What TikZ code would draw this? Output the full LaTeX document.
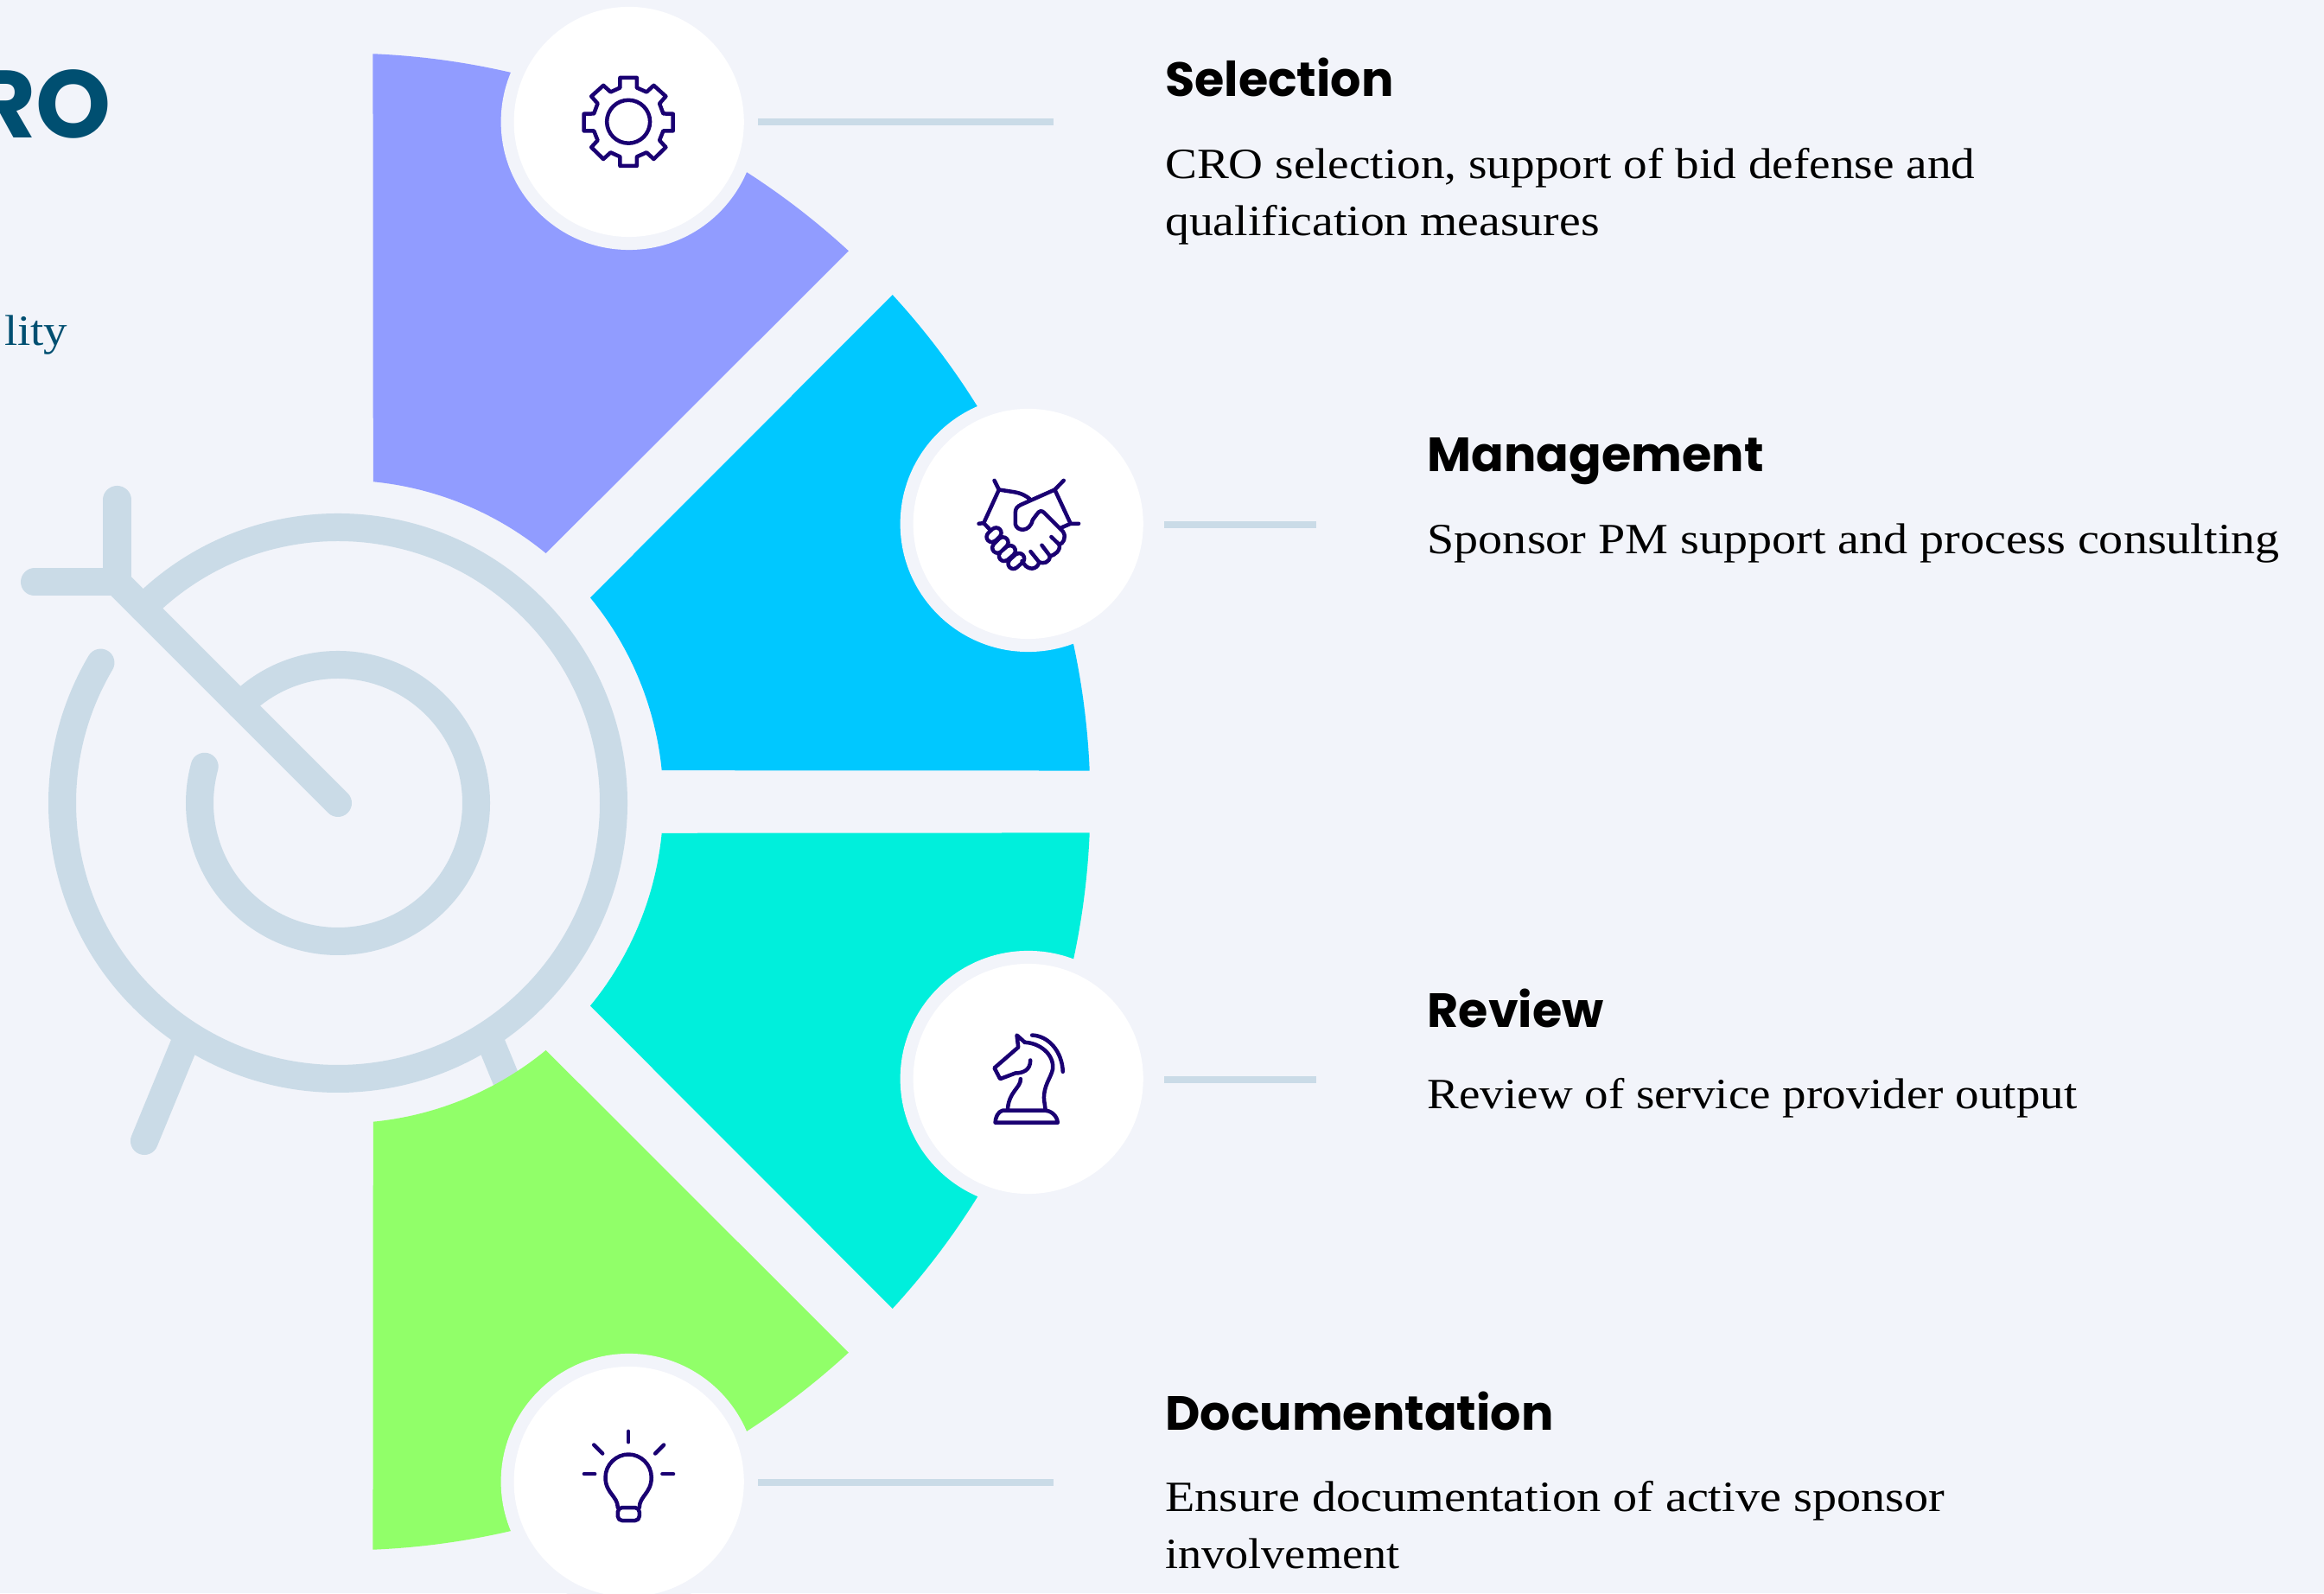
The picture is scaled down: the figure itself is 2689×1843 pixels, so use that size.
\documentclass[tikz,border=0pt]{standalone}
\usepackage{fontspec}
\newfontfamily\headfont{Poppins}
\newfontfamily\bodyfont{Liberation Serif}[FakeStretch=1.1]
\newcommand{\st}[1]{\addfontfeature{FakeStretch=#1}}
\definecolor{bgc}{HTML}{F2F4FA}
\definecolor{ringc}{HTML}{CADBE7}
\definecolor{purp}{HTML}{919CFF}
\definecolor{cyanw}{HTML}{00C8FF}
\definecolor{turq}{HTML}{00EFDC}
\definecolor{greenw}{HTML}{91FF69}
\definecolor{navy}{HTML}{1A0072}
\definecolor{deep}{HTML}{004F71}
\tikzset{
  x=0.01cm,y=0.01cm,
  ringline/.style={draw=ringc,line width=0.32cm,line cap=round},
  halo/.style={circle,fill=bgc,minimum size=2.96cm,inner sep=0pt},
  disc/.style={circle,fill=white,minimum size=2.66cm,inner sep=0pt},
  rule/.style={draw=ringc,line width=0.08cm},
  icon/.style={draw=navy,line width=0.045cm,line cap=round,line join=round},
  head/.style={anchor=base west,inner sep=0pt,font=\headfont\bfseries\fontsize{15.8pt}{18pt}\selectfont},
  body/.style={anchor=base west,inner sep=0pt,font=\bodyfont\fontsize{14.2pt}{19pt}\selectfont},
  zoomed/.style={shift={#1},x=0.003333cm,y=-0.003333cm},
}
\newcommand{\capdark}[4]{\draw[navy,line width=0.165cm,line cap=round] (#1,#2)--(#3,#4);}
\newcommand{\capwhite}[4]{\draw[white,line width=0.075cm,line cap=round] (#1,#2)--(#3,#4);}
\begin{document}
\begin{tikzpicture}
\useasboundingbox (0,0) rectangle (2689,1843);
\fill[bgc] (0,0) rectangle (2689,1843);
% target icon
\coordinate (tc) at (391,914);
\coordinate (fl) at (135.5,1169.5);
\coordinate (fu) at (135.5,1265);
\coordinate (fw) at (40,1169.5);
\coordinate (l1a) at (214,637);
\coordinate (l1b) at (167,523);
\coordinate (l2a) at (568,637);
\coordinate (l2b) at (615,523);
\draw[ringline] (l1a)--(l1b);
\draw[ringline] (l2a)--(l2b);
\draw[ringline] (tc) ++(135:319) arc[start angle=135,end angle=-210.6,radius=319];
\draw[ringline] (tc) ++(135:160) arc[start angle=135,end angle=-195.3,radius=160];
\draw[ringline] (tc)--(fl);
\draw[ringline] (fl)--(fu);
\draw[ringline] (fl)--(fw);
% wedges
\begin{scope}[shift={(395.5,915.5)}]
\fill[purp] (87.62:866) arc[start angle=87.62,end angle=47.38,radius=866] -- (50.6:372) arc[start angle=50.6,end angle=84.4,radius=372] -- cycle;
\fill[cyanw] (42.62:866) arc[start angle=42.62,end angle=2.38,radius=866] -- (5.6:372) arc[start angle=5.6,end angle=39.4,radius=372] -- cycle;
\fill[turq] (-2.38:866) arc[start angle=-2.38,end angle=-42.62,radius=866] -- (-39.4:372) arc[start angle=-39.4,end angle=-5.6,radius=372] -- cycle;
\fill[greenw] (-47.38:866) arc[start angle=-47.38,end angle=-87.62,radius=866] -- (-84.4:372) arc[start angle=-84.4,end angle=-50.6,radius=372] -- cycle;
\end{scope}
% discs
\node[halo] (h1) at (727.7,1702) {};
\node[halo] (h2) at (1189.7,1237) {};
\node[halo] (h3) at (1189.7,595) {};
\node[halo] (h4) at (727.7,129) {};
\node[disc] (d1) at (727.7,1702) {};
\node[disc] (d2) at (1189.7,1237) {};
\node[disc] (d3) at (1189.7,595) {};
\node[disc] (d4) at (727.7,129) {};
% rules
\coordinate (r1a) at (877,1702); \coordinate (r1b) at (1219,1702);
\coordinate (r2a) at (1347,1236); \coordinate (r2b) at (1523,1236);
\coordinate (r3a) at (1347,594); \coordinate (r3b) at (1523,594);
\coordinate (r4a) at (877,128); \coordinate (r4b) at (1219,128);
\draw[rule] (r1a)--(r1b);
\draw[rule] (r2a)--(r2b);
\draw[rule] (r3a)--(r3b);
\draw[rule] (r4a)--(r4b);
% gear
\begin{scope}[zoomed={(600,1843)}]
\draw[icon] (353,270)--(411,270)--(411,305)--(445,320)--(470,297)--(512,335)--(490,360)--(503,395)--(537,396)--(537,455)--(503,455)--(490,488)--(512,512)--(470,553)--(445,530)--(411,545)--(411,577)--(353,577)--(353,545)--(320,530)--(295,553)--(253,512)--(275,488)--(262,455)--(227,455)--(227,396)--(262,395)--(275,360)--(253,335)--(295,297)--(320,320)--(353,305)--cycle;
\draw[icon] (382,423) circle[radius=75];
\end{scope}
% handshake
\begin{scope}[zoomed={(1060,1363)}]
\capdark{263}{424}{278}{410}
\capdark{283}{462}{302}{443}
\capdark{306}{490}{327}{472}
\capdark{338}{517}{358}{499}
\capwhite{263}{424}{278}{410}
\capwhite{283}{462}{302}{443}
\capwhite{306}{490}{327}{472}
\capwhite{338}{517}{358}{499}
\draw[icon] (272,228)--(288,260)--(235,376)--(218,378);
\draw[icon] (235,376)--(255,397);
\draw[icon] (288,260)--(340,268) .. controls (365,272) and (385,282) .. (398,295);
\draw[icon] (513,228)--(482,260)--(537,378)--(565,378);
\draw[icon] (537,378)--(505,392);
\draw[icon] (482,260)--(365,312) .. controls (352,318) and (345,325) .. (345,340) -- (345,380) .. controls (350,405) and (395,410) .. (405,365) -- (420,345) .. controls (428,332) and (438,332) .. (445,340) -- (510,405) .. controls (525,425) and (510,450) .. (497,450) -- (470,424);
\draw[icon] (497,450) .. controls (505,470) and (480,490) .. (465,490) -- (437,453);
\draw[icon] (465,490) .. controls (465,515) and (440,518) .. (428,512) -- (398,475);
\draw[icon] (428,512) .. controls (420,540) and (390,540) .. (375,518) -- (368,508);
\end{scope}
% knight
\begin{scope}[zoomed={(1080,713)}]
\draw[icon] (343,203) .. controls (400,205) and (448,260) .. (450,330);
\draw[icon] (318,228)--(290,203)--(295,245)--(212,317)--(232,355)--(285,335) .. controls (310,335) and (338,325) .. (337,290);
\draw[icon] (318,228) .. controls (370,230) and (420,270) .. (415,320) .. controls (410,350) and (380,380) .. (385,430) -- (390,465);
\draw[icon] (303,355) .. controls (305,385) and (260,400) .. (258,465);
\draw[icon] (215,507)--(432,507) .. controls (430,480) and (405,465) .. (390,465) -- (240,465) .. controls (225,468) and (215,490) .. (215,507) -- cycle;
\end{scope}
% bulb
\begin{scope}[zoomed={(600,262)}]
\draw[icon] (382,225)--(382,262);
\draw[icon] (262,272)--(292,302);
\draw[icon] (505,272)--(475,302);
\draw[icon] (228,373)--(265,373);
\draw[icon] (500,373)--(538,373);
\draw[icon] (345,490) .. controls (345,450) and (302,440) .. (302,385) .. controls (302,340) and (340,305) .. (382,305) .. controls (425,305) and (462,340) .. (462,385) .. controls (462,440) and (420,450) .. (420,490);
\draw[icon,rounded corners=0.05cm] (345,490)--(345,535)--(420,535)--(420,490)--cycle;
\end{scope}
% left fragments
\node[anchor=base east,inner sep=0pt,text=deep,font=\headfont\bfseries\fontsize{31.5pt}{34pt}\selectfont] (title) at (129,1683) {RO};
\node[anchor=base east,inner sep=0pt,text=deep,font=\bodyfont\fontsize{14.2pt}{19pt}\selectfont] (sub) at (79,1443) {lity};
% labels
\node[head] (t1) at (1347.5,1731) {Selection};
\node[body] (b1a) at (1347.5,1636) {\st{1.106}CRO selection, support of bid defense and};
\node[body] (b1b) at (1347.5,1570) {\st{1.115}qualification measures};
\node[head] (t2) at (1651,1297) {Management};
\node[body] (b2) at (1651,1202) {\st{1.123}Sponsor PM support and process consulting};
\node[head] (t3) at (1651,654) {Review};
\node[body] (b3) at (1651,560) {\st{1.102}Review of service provider output};
\node[head] (t4) at (1347.5,188) {Documentation};
\node[body] (b4a) at (1347.5,94) {\st{1.125}Ensure documentation of active sponsor};
\node[body] (b4b) at (1347.5,28) {\st{1.087}involvement};
\end{tikzpicture}
\end{document}
